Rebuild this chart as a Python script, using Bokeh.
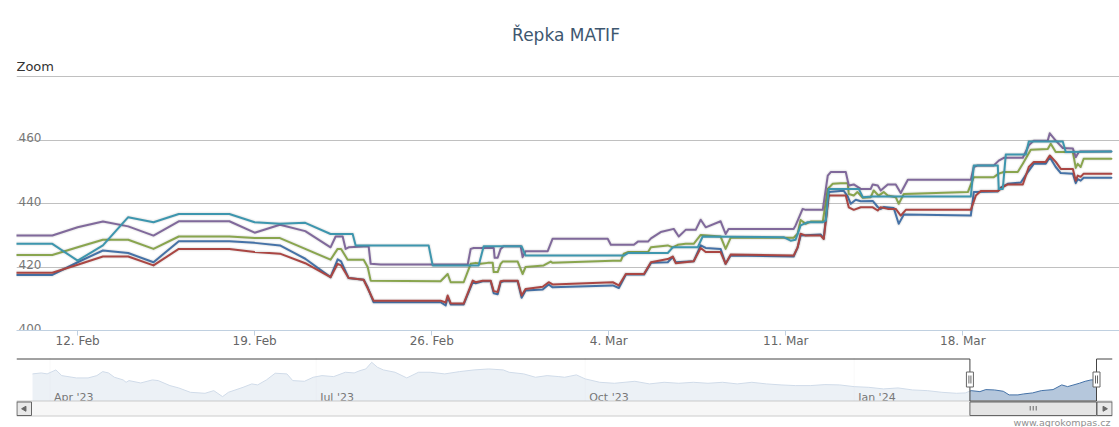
import pandas as pd
from bokeh.plotting import figure
from bokeh.layouts import column
from bokeh.models import Range1d, FixedTicker, Label, ColumnDataSource
from bokeh.embed import file_html
from bokeh.resources import INLINE
from bokeh.core.properties import value

FONT = "DejaVu Sans"
TITLE = "Řepka MATIF"
ZOOM_LABEL = "Zoom"
CREDITS = "www.agrokompas.cz"

# ---------------- data ----------------
y_ticks = [400, 420, 440, 460, 480]
y_tick_labels = ["400", "420", "440", "460"]          # top (480) label hidden
x_tick_dates = ["2024-02-12", "2024-02-19", "2024-02-26", "2024-03-04", "2024-03-11", "2024-03-18"]
x_tick_labels = ["12. Feb", "19. Feb", "26. Feb", "4. Mar", "11. Mar", "18. Mar"]
view_start = "2024-02-09 14:00"
view_end = "2024-03-24 04:40"

nav_tick_dates = ["2023-04-01", "2023-07-01", "2023-10-01", "2024-01-01"]
nav_tick_labels = ["Apr '23", "Jul '23", "Oct '23", "Jan '24"]
NAV_VMIN, NAV_VMAX = 389.8, 500.0

blue = [("02-09 00:00",417.5),("02-11 00:00",417.5),("02-12 00:00",421.5),("02-13 00:00",425.2),("02-14 00:00",424.4),
        ("02-15 00:00",421.5),("02-16 00:00",428.1),("02-18 00:00",428.1),("02-19 00:00",427.6),("02-20 00:00",426.8),
        ("02-21 00:00",422.6),("02-22 00:00",416.8),("02-22 06:45",422.4),("02-22 10:00",421.8),("02-22 17:10",416.5),
        ("02-23 07:25",416.0),("02-23 11:15",413.6),("02-23 16:50",408.9),("02-26 08:25",408.9),("02-26 13:15",407.9),
        ("02-26 15:10",410.5),("02-26 18:00",408.2),("02-27 06:20",408.2),("02-27 14:55",415.2),("02-27 17:45",414.9),
        ("02-28 00:25",415.5),("02-28 08:00",415.5),("02-28 10:50",411.7),("02-28 14:35",411.4),("02-28 17:25",415.2),
        ("02-28 20:15",415.5),("02-29 09:35",415.5),("02-29 13:20",410.3),("02-29 17:05",412.6),("03-01 09:20",412.9),
        ("03-01 15:00",414.5),("03-01 18:45",413.6),("03-04 03:50",414.2),("03-04 09:35",413.4),("03-04 16:15",417.6),
        ("03-05 09:25",417.6),("03-05 16:05",421.3),("03-06 08:00",421.5),("03-06 12:45",423.1),("03-06 15:35",421.5),
        ("03-07 08:35",421.8),("03-07 15:15",426.8),("03-07 20:00",426.0),("03-08 10:10",425.7),("03-08 14:55",421.0),
        ("03-08 19:40",423.6),("03-11 07:25",423.3),("03-11 11:15",426.2),("03-11 14:05",429.9),("03-12 09:10",430.2),
        ("03-12 12:00",429.0),("03-12 16:45",443.6),("03-13 07:00",444.0),("03-13 10:50",442.2),("03-13 13:40",439.9),
        ("03-13 18:25",441.2),("03-13 23:10",440.7),("03-14 10:30",440.8),("03-14 15:15",438.9),("03-14 18:05",438.3),
        ("03-14 20:55",438.9),("03-15 06:25",438.6),("03-15 11:10",433.6),("03-15 16:00",436.5),("03-18 07:35",436.2),
        ("03-18 10:25",443.6),("03-19 09:10",443.8),("03-19 12:00",445.0),("03-19 18:40",446.2),("03-20 07:00",446.6),
        ("03-20 13:40",449.9),("03-20 19:20",452.5),("03-21 06:40",452.5),("03-21 10:30",454.6),("03-21 16:10",451.5),
        ("03-21 20:55",449.6),("03-22 08:25",449.4),("03-22 11:10",446.4),("03-22 13:00",447.7),("03-22 15:50",447.2),
        ("03-22 18:40",448.1),("03-23 21:00",448.1)]

red = [("02-09 00:00",418.2),("02-11 00:00",418.2),("02-12 00:00",420.7),("02-13 00:00",423.3),("02-14 00:00",423.3),
       ("02-15 00:00",420.5),("02-16 00:00",425.7),("02-18 00:00",425.7),("02-19 00:00",424.7),("02-20 00:00",424.2),
       ("02-21 00:00",421.2),("02-22 00:00",416.8),("02-22 06:45",421.0),("02-22 10:00",420.5),("02-22 17:10",416.5),
       ("02-23 07:25",416.0),("02-23 11:15",413.3),("02-23 16:50",409.4),("02-26 08:25",409.4),("02-26 13:15",408.8),
       ("02-26 15:10",411.0),("02-26 18:00",408.6),("02-27 06:20",408.5),("02-27 14:55",415.7),("02-27 17:45",415.2),
       ("02-28 00:25",415.7),("02-28 08:00",415.7),("02-28 10:50",412.4),("02-28 14:35",412.1),("02-28 17:25",415.5),
       ("02-28 20:15",415.7),("02-29 09:35",415.7),("02-29 13:20",411.0),("02-29 17:05",413.1),("03-01 09:20",413.8),
       ("03-01 15:00",415.2),("03-01 18:45",414.5),("03-04 03:50",415.2),("03-04 09:35",414.2),("03-04 16:15",417.8),
       ("03-05 09:25",417.8),("03-05 16:05",421.5),("03-06 08:00",422.5),("03-06 12:45",423.3),("03-06 15:35",421.2),
       ("03-07 08:35",421.8),("03-07 15:15",426.0),("03-07 20:00",424.7),("03-08 10:10",424.7),("03-08 14:55",421.0),
       ("03-08 19:40",423.9),("03-11 07:25",423.6),("03-11 11:15",426.2),("03-11 14:05",430.5),("03-11 18:50",429.9),
       ("03-12 09:10",429.9),("03-12 12:00",428.8),("03-12 16:45",442.5),("03-13 08:55",442.5),("03-13 11:45",438.8),
       ("03-13 16:30",438.0),("03-13 23:10",438.8),("03-14 10:30",438.8),("03-14 15:15",437.8),("03-14 18:05",438.8),
       ("03-15 00:45",438.3),("03-15 08:20",438.3),("03-15 13:05",436.2),("03-15 17:55",438.0),("03-18 07:35",438.0),
       ("03-18 12:20",442.5),("03-18 17:05",443.9),("03-19 09:10",443.9),("03-19 13:55",445.2),("03-19 18:40",446.0),
       ("03-20 08:55",446.0),("03-20 14:35",451.5),("03-20 19:20",453.1),("03-21 06:40",453.1),("03-21 10:30",455.1),
       ("03-21 16:10",453.1),("03-21 20:55",450.9),("03-22 08:25",450.9),("03-22 11:10",447.2),("03-22 13:00",448.8),
       ("03-22 15:50",448.4),("03-22 18:40",449.4),("03-23 21:00",449.4)]

green = [("02-09 00:00",423.8),("02-11 00:00",423.8),("02-12 00:00",426.2),("02-13 00:00",428.6),("02-14 00:00",428.6),
         ("02-15 00:00",425.7),("02-16 00:00",429.6),("02-18 00:00",429.6),("02-19 00:00",429.1),("02-20 00:00",429.1),
         ("02-21 00:00",425.7),("02-22 00:00",422.3),("02-22 06:45",425.7),("02-22 10:00",425.7),("02-22 16:15",422.3),
         ("02-23 07:25",422.3),("02-23 11:15",420.0),("02-23 14:05",415.7),("02-26 08:25",415.5),("02-26 15:10",417.8),
         ("02-26 18:00",415.2),("02-27 06:20",415.2),("02-27 13:00",421.0),("02-27 17:45",421.3),("02-27 22:30",421.0),
         ("02-28 05:10",421.3),("02-28 09:55",421.3),("02-28 10:50",418.4),("02-28 14:35",418.4),("02-28 17:25",421.0),
         ("02-28 19:20",421.7),("02-29 09:35",421.7),("02-29 14:15",417.8),("02-29 17:05",420.0),("03-01 10:15",420.5),
         ("03-01 16:55",421.7),("03-01 18:45",421.3),("03-04 03:50",422.0),("03-04 11:30",422.0),("03-04 14:20",424.2),
         ("03-04 18:10",424.7),("03-05 13:15",424.7),("03-05 16:05",426.2),("03-06 08:00",426.8),("03-06 12:45",426.2),
         ("03-06 17:30",427.0),("03-07 01:00",427.3),("03-07 08:35",427.3),("03-07 15:15",430.1),("03-08 10:10",429.6),
         ("03-08 14:55",425.7),("03-08 19:40",429.2),("03-11 07:25",429.2),("03-11 11:15",430.5),("03-11 14:05",434.8),
         ("03-11 18:50",433.6),("03-11 23:35",434.3),("03-12 11:05",434.3),("03-12 15:50",444.6),("03-12 20:35",446.2),
         ("03-13 04:10",446.4),("03-13 10:50",446.4),("03-13 11:45",443.0),("03-13 16:30",442.5),("03-13 20:00",443.6),
         ("03-14 01:05",441.8),("03-14 08:35",442.0),("03-14 11:25",444.1),("03-14 16:00",442.5),("03-14 20:55",443.6),
         ("03-15 00:45",442.5),("03-15 08:20",442.0),("03-15 11:10",439.9),("03-15 16:00",443.0),("03-18 04:45",443.6),
         ("03-18 10:25",448.3),("03-19 05:25",448.3),("03-19 10:05",449.4),("03-19 14:50",449.9),("03-20 04:05",449.9),
         ("03-20 08:55",452.5),("03-20 16:30",456.9),("03-21 08:35",457.2),("03-21 11:25",458.8),("03-21 16:10",456.2),
         ("03-22 08:25",456.2),("03-22 11:10",451.2),("03-22 13:00",452.5),("03-22 15:50",451.5),("03-22 18:40",454.1),
         ("03-23 21:00",454.1)]

purple = [("02-09 00:00",429.9),("02-11 00:00",429.9),("02-12 00:00",432.5),("02-13 00:00",434.3),("02-14 00:00",432.8),
          ("02-15 00:00",429.9),("02-16 00:00",434.4),("02-18 00:00",434.4),("02-19 00:00",430.8),("02-20 00:00",433.3),
          ("02-21 00:00",431.3),("02-22 00:00",426.2),("02-22 04:50",429.6),("02-22 11:30",429.6),("02-22 14:20",425.7),
          ("02-22 17:10",426.2),("02-23 12:10",426.5),("02-23 14:05",421.0),("02-23 23:35",420.8),("02-27 10:10",420.8),
          ("02-27 13:00",425.7),("02-27 15:50",426.0),("02-28 10:50",426.0),("02-28 11:45",422.9),("02-28 14:35",422.9),
          ("02-28 17:25",425.7),("02-28 20:15",426.5),("02-29 12:25",426.5),("02-29 14:15",423.1),("02-29 17:05",425.0),
          ("03-01 14:05",425.0),("03-01 18:45",428.9),("03-03 23:00",428.9),("03-04 02:00",427.0),("03-04 23:50",427.0),
          ("03-05 03:40",428.0),("03-05 13:15",428.0),("03-05 16:05",429.0),("03-06 01:20",431.0),("03-06 13:40",432.0),
          ("03-06 18:25",429.6),("03-07 01:00",431.7),("03-07 10:30",431.7),("03-07 15:15",434.9),("03-07 20:00",432.5),
          ("03-08 10:10",434.4),("03-08 14:55",430.4),("03-08 17:45",432.0),("03-11 07:25",432.0),("03-11 09:20",433.1),
          ("03-11 16:00",438.3),("03-11 18:50",438.0),("03-12 11:05",438.0),("03-12 15:50",448.8),("03-12 18:40",449.9),
          ("03-13 08:55",449.9),("03-13 11:45",445.7),("03-13 16:30",446.0),("03-13 23:10",444.6),("03-14 08:35",444.6),
          ("03-14 10:30",446.0),("03-14 15:15",445.7),("03-14 18:05",444.1),("03-15 00:45",446.0),("03-15 08:20",446.0),
          ("03-15 13:05",443.3),("03-15 19:50",447.5),("03-18 07:35",447.5),("03-18 10:25",451.5),("03-18 14:15",452.0),
          ("03-19 05:25",452.0),("03-19 10:05",453.5),("03-19 14:50",454.4),("03-20 08:55",454.4),("03-20 14:35",458.3),
          ("03-20 19:20",459.8),("03-21 08:35",459.8),("03-21 10:30",462.1),("03-21 16:10",459.8),("03-21 22:50",457.5),
          ("03-22 08:25",457.3),("03-22 11:10",454.6),("03-22 14:00",456.2),("03-22 15:50",456.4),("03-23 21:00",456.4)]

teal = [("02-09 00:00",427.3),("02-11 00:00",427.3),("02-12 00:00",422.0),("02-13 00:00",426.8),("02-14 00:00",435.7),
        ("02-15 00:00",434.1),("02-16 00:00",436.7),("02-18 00:00",436.7),("02-19 00:00",434.1),("02-20 00:00",433.6),
        ("02-21 00:00",433.9),("02-22 00:00",430.4),("02-22 21:00",430.4),("02-22 23:50",426.8),("02-25 21:05",426.8),
        ("02-26 00:55",420.5),("02-27 20:35",420.5),("02-28 01:20",426.5),("02-29 13:20",426.5),("02-29 17:05",423.6),
        ("03-04 14:20",423.6),("03-04 18:10",424.4),("03-06 08:00",424.4),("03-06 12:45",426.2),("03-07 12:25",426.2),
        ("03-07 17:10",429.6),("03-10 21:50",429.4),("03-11 04:35",428.3),("03-11 09:20",428.6),("03-11 14:05",433.1),
        ("03-11 20:45",434.1),("03-12 11:05",434.1),("03-12 14:00",434.6),("03-12 16:45",444.6),("03-13 21:15",444.6),
        ("03-14 01:05",442.0),("03-14 10:30",442.2),("03-18 07:35",442.2),("03-18 10:25",452.0),("03-19 09:10",452.0),
        ("03-19 10:05",444.6),("03-19 13:55",444.6),("03-19 16:45",455.4),("03-20 11:45",455.4),("03-20 14:35",459.5),
        ("03-21 22:50",459.5),("03-22 01:40",456.2),("03-23 21:00",456.4)]

navigator = [("2023-03-26",459.6),("2023-03-29",462.1),("2023-03-31",459.6),("2023-04-03",470.0),("2023-04-05",455.1),
             ("2023-04-10",449.0),("2023-04-14",449.0),("2023-04-17",455.1),("2023-04-19",465.6),("2023-04-21",462.1),
             ("2023-04-23",450.8),("2023-04-26",443.8),("2023-04-27",437.6),("2023-04-28",442.0),("2023-05-02",435.8),
             ("2023-05-06",443.8),("2023-05-08",442.0),("2023-05-12",428.9),("2023-05-15",422.8),("2023-05-19",411.3),
             ("2023-05-24",408.7),("2023-05-27",415.7),("2023-05-30",400.0),("2023-06-01",411.3),("2023-06-06",424.4),
             ("2023-06-09",433.3),("2023-06-11",430.7),("2023-06-14",443.8),("2023-06-17",461.3),("2023-06-21",459.6),
             ("2023-06-23",442.0),("2023-06-27",440.2),("2023-06-30",450.8),("2023-07-03",455.1),("2023-07-07",452.5),
             ("2023-07-11",463.9),("2023-07-14",462.1),("2023-07-16",468.2),("2023-07-18",472.6),("2023-07-20",490.0),
             ("2023-07-22",476.9),("2023-07-24",470.0),("2023-07-28",463.9),("2023-08-01",449.0),("2023-08-05",463.9),
             ("2023-08-09",463.9),("2023-08-14",459.6),("2023-08-19",465.6),("2023-08-24",470.0),("2023-08-29",472.6),
             ("2023-09-03",470.0),("2023-09-05",463.9),("2023-09-10",459.6),("2023-09-14",450.8),("2023-09-18",455.1),
             ("2023-09-22",452.5),("2023-09-24",450.8),("2023-09-28",457.0),("2023-10-01",446.5),("2023-10-06",437.6),
             ("2023-10-11",435.0),("2023-10-18",440.2),("2023-10-23",433.3),("2023-10-28",437.6),("2023-11-02",435.0),
             ("2023-11-07",437.6),("2023-11-12",435.0),("2023-11-17",437.6),("2023-11-22",433.3),("2023-11-27",437.6),
             ("2023-12-02",433.3),("2023-12-07",430.7),("2023-12-12",428.9),("2023-12-17",428.9),("2023-12-22",431.5),
             ("2023-12-27",430.7),("2024-01-01",426.2),("2024-01-06",424.4),("2024-01-11",420.2),("2024-01-16",422.8),
             ("2024-01-21",417.5),("2024-01-26",415.7),("2024-01-31",411.3),("2024-02-05",408.7),("2024-02-08",409.7),
             ("2024-02-10",415.7),("2024-02-13",413.1),("2024-02-15",418.4),("2024-02-18",417.5),("2024-02-21",414.0),
             ("2024-02-23",404.5),("2024-02-26",404.5),("2024-02-28",407.1),("2024-03-02",409.7),("2024-03-05",415.7),
             ("2024-03-09",418.4),("2024-03-12",430.7),("2024-03-14",426.2),("2024-03-18",435.0),("2024-03-20",440.2),
             ("2024-03-22",443.8),("2024-03-23 21:00",443.8)]

series = [("blue", blue, "#4572A7"), ("red", red, "#AA4643"), ("green", green, "#89A54E"),
          ("purple", purple, "#80699B"), ("teal", teal, "#3D96AE")]


def ms(s):
    return pd.Timestamp(s).value / 1e6


# ---------------- main chart ----------------
PAGE_W = 1119
LEFT = 16
FRAME_W = PAGE_W - LEFT
TOP_PAD_PX = 76            # space inside the frame above the 480 grid line (title, "Zoom")
PLOT_H_PX = 254            # 400..480 band
last_t = max(ms("2024-" + s[-1][0]) for _, s, _ in series)
x0, x1 = ms(view_start), ms(view_end)
upp_main = (y_ticks[-1] - y_ticks[0]) / PLOT_H_PX
y_top = y_ticks[-1] + TOP_PAD_PX * upp_main


def hy(px):                # header position (px from top of the chart) -> y value
    return y_top - px * upp_main


p = figure(frame_width=FRAME_W, frame_height=TOP_PAD_PX + PLOT_H_PX, x_range=Range1d(x0, x1),
           y_range=Range1d(y_ticks[0], y_top),
           y_axis_location=None, output_backend="svg", toolbar_location=None,
           min_border_left=LEFT, min_border_right=0, min_border_top=0, min_border_bottom=20)
p.outline_line_color = None
p.background_fill_color = "white"
p.border_fill_color = "white"
p.xgrid.visible = False
p.ygrid.ticker = FixedTicker(ticks=y_ticks)
p.ygrid.grid_line_color = "#C0C0C0"
p.ygrid.grid_line_width = 1

tick_ms = [ms(d) for d in x_tick_dates]
p.xaxis.ticker = FixedTicker(ticks=tick_ms)
p.xaxis.major_label_overrides = {t: l for t, l in zip(tick_ms, x_tick_labels)}
p.xaxis.axis_line_color = "#C0D0E0"
p.xaxis.major_tick_line_color = "#C0D0E0"
p.xaxis.minor_tick_line_color = None
p.xaxis.major_tick_out = 5
p.xaxis.major_tick_in = 0
p.xaxis.major_label_standoff = -2
p.xaxis.major_label_text_font = FONT
p.xaxis.major_label_text_font_size = "12px"
p.xaxis.major_label_text_color = "#666666"

p.text(x=[x0] * len(y_tick_labels), y=y_ticks[:len(y_tick_labels)], text=y_tick_labels,
       x_offset=2, y_offset=-2.5, text_baseline="alphabetic", text_align="left",
       text_font=value(FONT), text_font_size="12px", text_color="#777777")

p.text(x=[(x0 + x1) / 2], y=[hy(34)], text=[TITLE], x_offset=-2, text_align="center",
       text_baseline="alphabetic", text_font=value(FONT), text_font_size="17px", text_color="#3E576F")
p.text(x=[x0], y=[hy(65.5)], text=[ZOOM_LABEL], text_align="left", text_baseline="alphabetic",
       text_font=value(FONT), text_font_size="13px", text_color="#333333")

for name, data, color in series:
    src = ColumnDataSource(dict(x=[ms("2024-" + t) for t, _ in data], y=[v for _, v in data]))
    p.line("x", "y", source=src, line_color="black", line_alpha=0.04, line_width=5, line_join="round")
    p.line("x", "y", source=src, line_color="black", line_alpha=0.06, line_width=3, line_join="round")
    p.line("x", "y", source=src, line_color=color, line_width=2, line_join="round", line_cap="round")

# ---------------- navigator + scrollbar ----------------
nav_t = [ms(d) for d, _ in navigator]
nav_v = [v for _, v in navigator]
n0, n1 = nav_t[0], last_t
NAV_FRAME_W = 1096
PAD_PX = 16
mpp = (n1 - n0) / (NAV_FRAME_W - 2 * PAD_PX)
nx0, nx1 = n0 - PAD_PX * mpp, n1 + PAD_PX * mpp

NAV_H = 72
AREA_TOP, AREA_BOT, SCROLL_BOT = 3, 45, 60.5
upp = (NAV_VMAX - NAV_VMIN) / (AREA_BOT - AREA_TOP)
ny1 = NAV_VMAX + AREA_TOP * upp
ny0 = ny1 - NAV_H * upp


def ny(px):
    return ny1 - px * upp


def dx(px):
    return px * mpp


nav = figure(frame_width=NAV_FRAME_W, frame_height=NAV_H, x_range=Range1d(nx0, nx1), y_range=Range1d(ny0, ny1),
             x_axis_location=None, y_axis_location=None, output_backend="svg", toolbar_location=None,
             min_border_left=LEFT, min_border_right=PAGE_W - LEFT - NAV_FRAME_W, min_border_top=5,
             min_border_bottom=0)
nav.outline_line_color = None
nav.grid.visible = False
nav.border_fill_color = "white"

nt_ms = [ms(d) for d in nav_tick_dates]
nav.segment(x0=nt_ms, x1=nt_ms, y0=[ny(AREA_TOP)] * len(nt_ms), y1=[ny(AREA_BOT)] * len(nt_ms),
            line_color="#E6E6E6", line_width=1)

nsrc = ColumnDataSource(dict(x=nav_t, y=nav_v))
nav.varea(x="x", y1=NAV_VMIN, y2="y", source=nsrc, fill_color="#4572A7", fill_alpha=0.4)
nav.line("x", "y", source=nsrc, line_color="#4572A7", line_width=1)

sel0, sel1 = x0, last_t
nav.quad(left=[nx0], right=[sel0], top=[ny(AREA_TOP)], bottom=[ny(AREA_BOT)],
         fill_color="white", fill_alpha=0.75, line_color=None)

nav.text(x=nt_ms, y=[ny(41.5)] * len(nt_ms), text=nav_tick_labels, x_offset=4, text_baseline="alphabetic",
         text_font=value(FONT), text_font_size="11px", text_color="#777777")

# scrollbar track
nav.quad(left=[nx0], right=[nx1], top=[ny(AREA_BOT + 0.5)], bottom=[ny(SCROLL_BOT)],
         fill_color="#F7F7F7", line_color="#CCCCCC")
# outline
ot, ob = ny(AREA_TOP + 0.5), ny(AREA_BOT + 0.5)
nav.line(x=[nx0, sel0, sel0, sel1, sel1, nx1], y=[ot, ot, ob, ob, ot, ot], line_color="#444444", line_width=1)
# buttons
btn_top, btn_bot = ny(AREA_BOT + 1.5), ny(SCROLL_BOT - 0.5)
nav.quad(left=[nx0 + dx(0.5), n1 + dx(0.5)], right=[n0 - dx(1), nx1 - dx(0.5)],
         top=[btn_top] * 2, bottom=[btn_bot] * 2, fill_color="#E9E9E9", line_color="#666666")
nav.scatter(x=[nx0 + dx(8), n1 + dx(8)], y=[ny((AREA_BOT + SCROLL_BOT) / 2 + 0.5)] * 2, marker="triangle",
            size=5, angle=[1.5708, -1.5708], fill_color="#666666", line_color="#666666")
# thumb
nav.quad(left=[sel0], right=[sel1], top=[btn_top], bottom=[btn_bot], fill_color="#E4E4E4", line_color="#666666")
mid = (sel0 + sel1) / 2
rx = [mid + dx(k) for k in (-3, 0, 3)]
nav.segment(x0=rx, x1=rx, y0=[ny(50.5)] * 3, y1=[ny(55)] * 3, line_color="#666666", line_width=1)
# handles
nav.quad(left=[sel0 - dx(3.5), sel1 - dx(3.5)], right=[sel0 + dx(3.5), sel1 + dx(3.5)],
         top=[ny(16.5)] * 2, bottom=[ny(31.5)] * 2, fill_color="white", line_color="#666666")
gx = [sel0 - dx(1), sel0 + dx(1), sel1 - dx(1), sel1 + dx(1)]
nav.segment(x0=gx, x1=gx, y0=[ny(20)] * 4, y1=[ny(28)] * 4, line_color="#666666", line_width=1)

nav.add_layout(Label(x=1094, y=5, x_units="screen", y_units="screen", text=CREDITS, text_align="right",
                     text_baseline="alphabetic", text_font=FONT, text_font_size="9.5px", text_color="#909090"))

layout = column(p, nav, spacing=0)
open("out.html", "w").write(file_html(layout, INLINE))
